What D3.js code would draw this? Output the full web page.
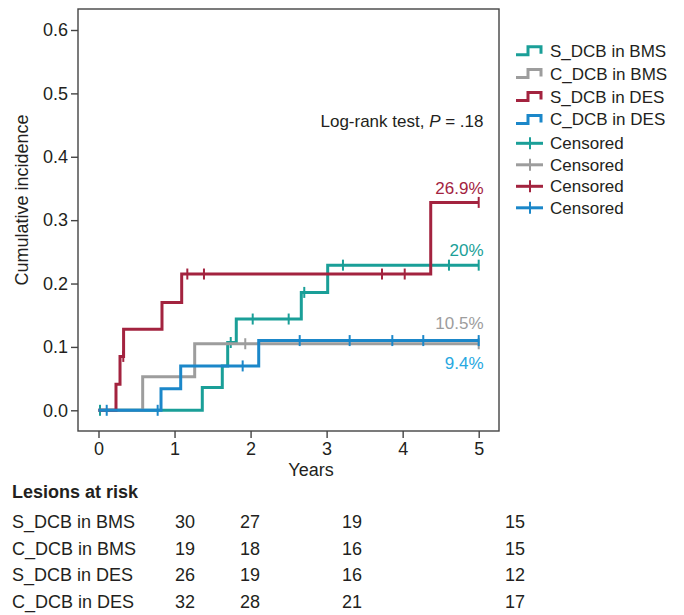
<!DOCTYPE html>
<html><head><meta charset="utf-8">
<script src="https://cdn.jsdelivr.net/npm/d3@7"></script>
<style>body{margin:0;background:#fff} svg{display:block;font-family:"Liberation Sans",Arial,Helvetica,sans-serif}</style>
</head><body><svg id="c" width="684" height="615"></svg>
<script>
// ---------- data ----------
const groups = ["S_DCB in BMS", "C_DCB in BMS", "S_DCB in DES", "C_DCB in DES"];
const colors = ["#1a9f98", "#9d9d9d", "#a3233f", "#1b87c9"];
const labelColors = ["#1a9f98", "#9d9d9d", "#a3233f", "#27a8e1"];
const stepTimes = [
  [0, 1.365, 1.628, 1.699, 1.812, 2.667, 3.014],
  [0, 0.581, 1.265],
  [0, 0.23, 0.283, 0.33, 0.835, 1.094, 4.369],
  [0, 0.822, 1.081, 2.107]
];
const stepValues = [
  [0, 0.036, 0.070, 0.107, 0.144, 0.186, 0.229],
  [0, 0.053, 0.105],
  [0, 0.041, 0.085, 0.128, 0.170, 0.215, 0.328],
  [0, 0.034, 0.070, 0.110]
];
const censorTimes = [
  [0.02, 1.739, 2.028, 2.501, 2.706, 3.215, 4.609, 5],
  [1.93, 5],
  [0.326, 1.168, 1.387, 3.728, 4.027, 5],
  [0.108, 0.778, 1.896, 2.646, 3.303, 3.864, 4.271, 5]
];
const endLabels = ["20%", "10.5%", "26.9%", "9.4%"];
const xTicks = [0, 1, 2, 3, 4, 5];
const yTicks = [0, 0.1, 0.2, 0.3, 0.4, 0.5, 0.6];
const riskCounts = [
  [30, 27, 19, 15],
  [19, 18, 16, 15],
  [26, 19, 16, 12],
  [32, 28, 21, 17]
];
const maxTime = 5;

// ---------- layout ----------
const svg = d3.select("#c");
const L = 78, R = 499, T = 9, B = 431;
const x = d3.scaleLinear().domain([0, 5]).range([98.5, 478.7]);
const y = d3.scaleLinear().domain([0, 0.6]).range([410.3, 30]);
const textCol = "#231f20";

// frame
svg.append("rect").attr("x", L).attr("y", T).attr("width", R - L).attr("height", B - T)
  .attr("fill", "none").attr("stroke", "#444").attr("stroke-width", 1.4);

// axes
const yAx = svg.append("g").attr("transform", `translate(${L},0)`)
  .call(d3.axisLeft(y).tickValues(yTicks).tickFormat(d3.format(".1f")).tickSize(7).tickPadding(3));
const xAx = svg.append("g").attr("transform", `translate(0,${B})`)
  .call(d3.axisBottom(x).tickValues(xTicks).tickFormat(d3.format("d")).tickSize(7).tickPadding(4));
[yAx, xAx].forEach(g => {
  g.select(".domain").remove();
  g.selectAll("line").attr("stroke", "#444").attr("stroke-width", 1.4);
  g.selectAll("text").attr("fill", textCol).style("font-size", "18px")
   .style("font-family", '"Liberation Sans",Arial,sans-serif');
});

// axis titles
svg.append("text").attr("x", 311).attr("y", 476).attr("text-anchor", "middle")
  .attr("fill", textCol).style("font-size", "18px").text("Years");
svg.append("text").attr("transform", "translate(28,200) rotate(-90)").attr("text-anchor", "middle")
  .attr("fill", textCol).style("font-size", "18px").text("Cumulative incidence");

// curves
const line = d3.line().x(d => x(d[0])).y(d => y(d[1])).curve(d3.curveStepAfter);
function valueAt(i, t) {
  let v = 0;
  stepTimes[i].forEach((s, k) => { if (s <= t) v = stepValues[i][k]; });
  return v;
}
const order = [0, 1, 2, 3];
order.forEach(i => {
  const pts = stepTimes[i].map((t, k) => [t, stepValues[i][k]]);
  pts.push([maxTime, stepValues[i][stepValues[i].length - 1]]);
  svg.append("path").attr("d", line(pts)).attr("fill", "none")
    .attr("stroke", colors[i]).attr("stroke-width", 3);
  svg.append("g").selectAll("line").data(censorTimes[i]).join("line")
    .attr("x1", d => x(d)).attr("x2", d => x(d))
    .attr("y1", d => y(valueAt(i, d)) - 5.5).attr("y2", d => y(valueAt(i, d)) + 5.5)
    .attr("stroke", colors[i]).attr("stroke-width", 2);
});

// end labels
const labelY = [256, 329, 194, 369];
order.forEach(i => {
  svg.append("text").attr("x", 483.5).attr("y", labelY[i]).attr("text-anchor", "end")
    .attr("fill", labelColors[i]).style("font-size", "17px").text(endLabels[i]);
});

// log-rank text
const lr = svg.append("text").attr("x", 483.5).attr("y", 127).attr("text-anchor", "end")
  .attr("fill", textCol).style("font-size", "17px");
lr.append("tspan").text("Log-rank test, ");
lr.append("tspan").attr("font-style", "italic").text("P");
lr.append("tspan").text(" = .18");

// legend
const lg = svg.append("g");
groups.forEach((g, i) => {
  const cy = 50.7 + i * 22.9;
  lg.append("path").attr("d", `M516,${cy + 4}H528V${cy - 4}H541V${cy + 3}`)
    .attr("fill", "none").attr("stroke", colors[i]).attr("stroke-width", 3);
  lg.append("text").attr("x", 550).attr("y", cy + 6).attr("fill", textCol)
    .style("font-size", "17px").text(g);
});
groups.forEach((g, i) => {
  const cy = 143.3 + i * 21.5;
  lg.append("line").attr("x1", 516).attr("x2", 543).attr("y1", cy).attr("y2", cy)
    .attr("stroke", colors[i]).attr("stroke-width", 3);
  lg.append("line").attr("x1", 530).attr("x2", 530).attr("y1", cy - 6).attr("y2", cy + 6)
    .attr("stroke", colors[i]).attr("stroke-width", 2);
  lg.append("text").attr("x", 550).attr("y", cy + 6).attr("fill", textCol)
    .style("font-size", "17px").text("Censored");
});

// risk table
svg.append("text").attr("x", 12).attr("y", 498).attr("fill", textCol)
  .attr("font-weight", "bold").style("font-size", "18px").text("Lesions at risk");
const colX = [185, 250, 352, 515];
groups.forEach((g, i) => {
  const by = 528 + i * 26.7;
  svg.append("text").attr("x", 12).attr("y", by).attr("fill", textCol)
    .style("font-size", "18px").text(g);
  riskCounts[i].forEach((n, j) => {
    svg.append("text").attr("x", colX[j]).attr("y", by).attr("text-anchor", "middle")
      .attr("fill", textCol).style("font-size", "18px").text(n);
  });
});
</script></body></html>
